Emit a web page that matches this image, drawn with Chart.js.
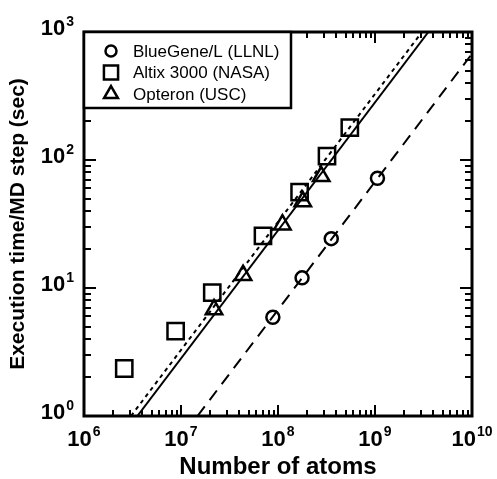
<!DOCTYPE html>
<html>
<head>
<meta charset="utf-8">
<script src="https://cdn.jsdelivr.net/npm/chart.js@4/dist/chart.umd.min.js"></script>
<style>
  html, body { margin: 0; padding: 0; background: #ffffff; }
  #wrap { width: 497px; height: 479px; }
</style>
</head>
<body>
<div id="wrap"><canvas id="c" width="497" height="479"></canvas></div>
<script>
// ---- data ----
const seriesNames = ['BlueGene/L (LLNL)', 'Altix 3000 (NASA)', 'Opteron (USC)'];

const blueGeneAtoms = [8.85e7, 1.77e8, 3.54e8, 1.06e9];
const blueGeneTime  = [5.9, 12.0, 24.3, 72];

const altixAtoms = [2.6e6, 8.8e6, 2.1e7, 7.0e7, 1.67e8, 3.2e8, 5.5e8];
const altixTime  = [2.35, 4.6, 9.2, 25.5, 56, 107, 179];

const opteronAtoms = [2.19e7, 4.36e7, 1.11e8, 1.80e8, 2.79e8];
const opteronTime  = [6.8, 12.6, 31.2, 47.5, 74.5];

// fitted lines (end points)
const altixFitAtoms    = [3.05e6, 3.05e9];
const altixFitTime     = [1, 1000];
const opteronFitAtoms  = [3.55e6, 3.55e9];
const opteronFitTime   = [1, 1000];
const blueGeneFitAtoms = [1.48e7, 1.0e10];
const blueGeneFitTime  = [1, 676];

// axes
const xTickValues = [1e6, 1e7, 1e8, 1e9, 1e10];
const xTickExps   = ['6', '7', '8', '9', '10'];
const yTickValues = [1, 10, 100, 1000];
const yTickExps   = ['0', '1', '2', '3'];
const xTitle = 'Number of atoms';
const yTitle = 'Execution time/MD step (sec)';

function pts(xs, ys) { return xs.map((x, i) => ({ x: x, y: ys[i] })); }

const FONT = '"Liberation Sans", Arial, Helvetica, sans-serif';

const axesPlugin = {
  id: 'axesPlugin',
  afterDraw(chart) {
    const ctx = chart.ctx;
    const a = chart.chartArea;
    const xs = chart.scales.x, ys = chart.scales.y;
    ctx.save();
    ctx.strokeStyle = '#000';
    ctx.fillStyle = '#000';
    // ticks (inward on all four sides)
    ctx.lineWidth = 2;
    ctx.lineCap = 'butt';
    const xMajor = 11, xMinor = 6, yMajor = 12, yMinor = 7;
    for (let k = 6; k <= 10; k++) {
      for (let m = 1; m <= 9; m++) {
        const v = m * Math.pow(10, k);
        if (v > 1e10 * 1.0001) break;
        const px = Math.round(xs.getPixelForValue(v));
        const len = m === 1 ? xMajor : xMinor;
        ctx.beginPath();
        ctx.moveTo(px, a.bottom); ctx.lineTo(px, a.bottom - len);
        ctx.moveTo(px, a.top); ctx.lineTo(px, a.top + len);
        ctx.stroke();
      }
    }
    for (let k = 0; k <= 3; k++) {
      for (let m = 1; m <= 9; m++) {
        const v = m * Math.pow(10, k);
        if (v > 1000 * 1.0001) break;
        const py = Math.round(ys.getPixelForValue(v));
        const len = m === 1 ? yMajor : yMinor;
        ctx.beginPath();
        ctx.moveTo(a.left, py); ctx.lineTo(a.left + len, py);
        ctx.moveTo(a.right, py); ctx.lineTo(a.right - len, py);
        ctx.stroke();
      }
    }
    // frame
    ctx.lineWidth = 3;
    ctx.strokeRect(a.left, a.top, a.right - a.left, a.bottom - a.top);

    // tick labels: 10 with superscript exponent
    const baseFont = 'bold 22px ' + FONT;
    const supFont = 'bold 14px ' + FONT;
    ctx.textBaseline = 'alphabetic';
    ctx.textAlign = 'left';
    xTickValues.forEach((v, i) => {
      const px = xs.getPixelForValue(v);
      ctx.font = baseFont;
      const w1 = ctx.measureText('10').width;
      ctx.font = supFont;
      const w2 = ctx.measureText(xTickExps[i]).width;
      const x0 = px - (w1 + 1 + w2) / 2;
      const base = a.bottom + 30;
      ctx.font = baseFont;
      ctx.fillText('10', x0, base);
      ctx.font = supFont;
      ctx.fillText(xTickExps[i], x0 + w1 + 1, base - 10);
    });
    yTickValues.forEach((v, i) => {
      const py = ys.getPixelForValue(v);
      ctx.font = supFont;
      const w2 = ctx.measureText(yTickExps[i]).width;
      ctx.font = baseFont;
      const w1 = ctx.measureText('10').width;
      const right = a.left - 10;
      const base = py + 3;
      ctx.fillText('10', right - w2 - 1 - w1, base);
      ctx.font = supFont;
      ctx.fillText(yTickExps[i], right - w2, base - 9);
    });

    // axis titles
    ctx.font = 'bold 24px ' + FONT;
    ctx.textAlign = 'center';
    ctx.fillText(xTitle, (a.left + a.right) / 2, 474);
    ctx.save();
    ctx.translate(24, (a.top + a.bottom) / 2);
    ctx.rotate(-Math.PI / 2);
    ctx.font = 'bold 21px ' + FONT;
    ctx.fillText(yTitle, 0, 0);
    ctx.restore();

    // legend box
    const lx = a.left, ly = a.top, lw = 207, lh = 76;
    ctx.fillStyle = '#fff';
    ctx.fillRect(lx, ly, lw, lh);
    ctx.lineWidth = 2.5;
    ctx.strokeStyle = '#000';
    ctx.strokeRect(lx, ly, lw, lh);
    ctx.font = '17px ' + FONT;
    ctx.textAlign = 'left';
    ctx.textBaseline = 'middle';
    for (let i = 0; i < 3; i++) {
      const ds = chart.data.datasets[i];
      const cy = ly + 19 + i * 21.5;
      const cx = lx + 27;
      ctx.lineWidth = 2.5;
      ctx.strokeStyle = '#000';
      ctx.fillStyle = '#fff';
      Chart.helpers.drawPoint(ctx, {
        pointStyle: ds.pointStyle,
        radius: ds.legendRadius,
        borderWidth: 2.5
      }, cx, cy);
      ctx.fillStyle = '#000';
      ctx.fillText(ds.label, lx + 49, cy + 1);
    }
    ctx.restore();
  }
};

const markerCommon = {
  showLine: false,
  borderColor: '#000',
  backgroundColor: 'rgba(0,0,0,0)',
  pointBorderWidth: 2.5
};
const lineCommon = {
  showLine: true,
  borderColor: '#000',
  borderWidth: 2,
  pointRadius: 0,
  pointHoverRadius: 0,
  fill: false,
  tension: 0
};

new Chart(document.getElementById('c'), {
  type: 'scatter',
  data: {
    datasets: [
      Object.assign({ label: seriesNames[0], data: pts(blueGeneAtoms, blueGeneTime),
        pointStyle: 'circle', pointRadius: 6.5, legendRadius: 5.5 }, markerCommon),
      Object.assign({ label: seriesNames[1], data: pts(altixAtoms, altixTime),
        pointStyle: 'rect', pointRadius: 11.5, legendRadius: 10 }, markerCommon),
      Object.assign({ label: seriesNames[2], data: pts(opteronAtoms, opteronTime),
        pointStyle: 'triangle', pointRadius: 9.5, legendRadius: 8 }, markerCommon),
      Object.assign({ label: 'Altix fit', data: pts(altixFitAtoms, altixFitTime),
        borderDash: [4, 4] }, lineCommon),
      Object.assign({ label: 'Opteron fit', data: pts(opteronFitAtoms, opteronFitTime) }, lineCommon),
      Object.assign({ label: 'BlueGene fit', data: pts(blueGeneFitAtoms, blueGeneFitTime),
        borderDash: [12, 8] }, lineCommon)
    ]
  },
  options: {
    responsive: false,
    animation: false,
    devicePixelRatio: 1,
    layout: { padding: { left: 84, right: 25, top: 32, bottom: 63 } },
    plugins: { legend: { display: false }, tooltip: { enabled: false } },
    scales: {
      x: { type: 'logarithmic', min: 1e6, max: 1e10, display: false },
      y: { type: 'logarithmic', min: 1, max: 1000, display: false }
    }
  },
  plugins: [axesPlugin]
});
</script>
</body>
</html>
